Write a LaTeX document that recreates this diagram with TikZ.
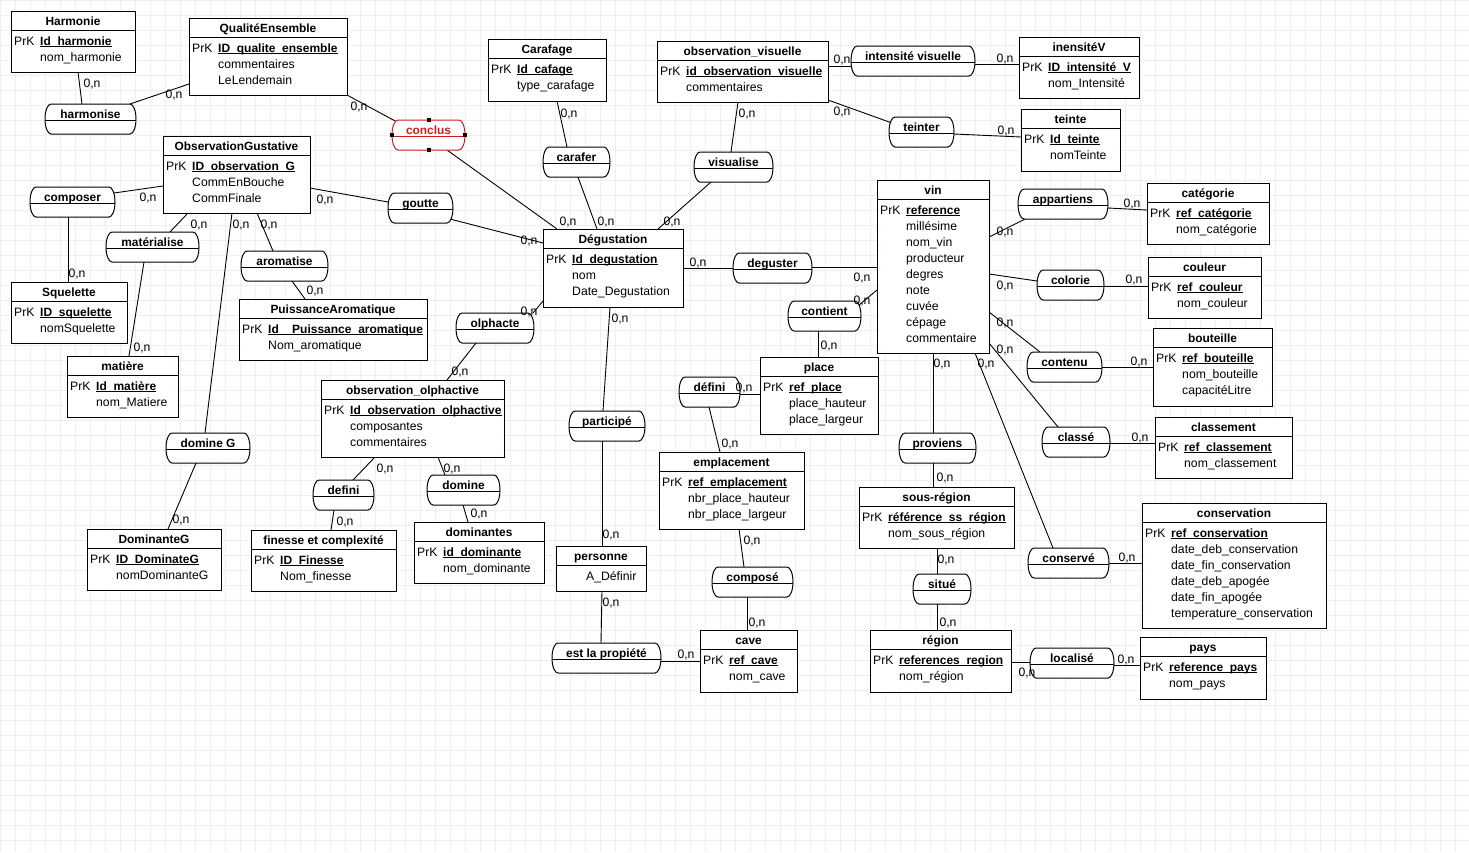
\documentclass[tikz,border=0pt]{standalone}
\usepackage{fontspec}
\setmainfont{Liberation Sans}
\usetikzlibrary{calc}

\definecolor{gridc}{RGB}{246,236,239}
\definecolor{relred}{RGB}{205,30,30}

\pgfdeclarelayer{bg}
\pgfsetlayers{bg,main}

\tikzset{
  entbox/.style={draw=black, fill=white, line width=1pt, inner sep=0pt, outer sep=0pt, rectangle},
  sepline/.style={line width=1pt},
  ttl/.style={font=\fontsize{11.9}{14}\selectfont\bfseries, inner sep=0pt, anchor=base},
  attr/.style={font=\fontsize{12.2}{14}\selectfont, inner sep=0pt, anchor=base west},
  card/.style={font=\fontsize{12.2}{14}\selectfont, inner sep=0pt, anchor=base},
  relbox/.style={draw=none, inner sep=0pt, outer sep=0pt, rectangle},
  relline/.style={line width=1pt},
  link/.style={line width=0.9pt, draw=black},
}

% bold key attribute, underlined at the height of the underscores
\newcommand{\keyu}[1]{\setbox0=\hbox{\fontsize{12}{14}\selectfont\bfseries #1}\rlap{\rule[-2.3pt]{\wd0}{0.9pt}}\box0}

% entity: name, x0, y0, x1, y1, title, key, other attributes
\newcommand{\entity}[8]{%
  \node[entbox, minimum width={(#4)-(#2)}, minimum height={(#5)-(#3)}, anchor=north west] (#1) at (#2,#3) {};
  \draw[sepline] ($(#1.north west)+(0,19)$) -- ($(#1.north east)+(0,19)$);
  \node[ttl] (#1-t) at ({((#2)+(#4))/2},{(#3)+14.5}) {#6};
  \node[attr] (#1-k) at ({(#2)+3},{(#3)+34}) {PrK};
  \node[attr] (#1-1) at ({(#2)+29},{(#3)+34}) {\keyu{#7}};
  \foreach \attrname [count=\i from 2] in {#8} {
    \node[attr] (#1-\i) at ({(#2)+29},{(#3)+34+16*(\i-1)}) {\attrname};
  }
}

% association: name, x0, y0, x1, y1, label, colour
\newcommand{\relation}[7]{%
  \node[relbox, minimum width={(#4)-(#2)}, minimum height={(#5)-(#3)}, anchor=north west] (#1) at (#2,#3) {};
  \draw[relline, draw=#7, fill=white] ($(#1.north west)+(6,0)$) -- ($(#1.north east)+(-6,0)$)
     arc[start angle=90, end angle=-90, x radius=6pt, y radius=15pt]
     -- ($(#1.south west)+(6,0)$)
     arc[start angle=270, end angle=90, x radius=6pt, y radius=15pt] -- cycle;
  \draw[relline, draw=#7] ($(#1.north west)+(0,16)$) -- ($(#1.north east)+(0,16)$);
  \node[ttl, text=#7] (#1-t) at ({((#2)+(#4))/2},{(#3)+14.5}) {#6};
}

% link between two nodes (offsets from their top-left corners) with its cardinality
\newcounter{cardn}
\newcommand{\link}[8]{%
  \stepcounter{cardn}%
  \begin{pgfonlayer}{bg}
  \draw[link] ($(#1.north west)+(#2,#3)$) -- ($(#4.north west)+(#5,#6)$);
  \end{pgfonlayer}
  \node[card] (card\thecardn) at ({#7},{(#8)+4.5}) {0,n};
}

\begin{document}
\begin{tikzpicture}[x=1pt,y=-1pt]
\useasboundingbox (0,0) rectangle (1469,852);
\begin{pgfonlayer}{bg}
  \fill[white] (0,0) rectangle (1469,852);
  \draw[gridc, line width=0.7pt, step=15pt] (0,0) grid (1469,852);
\end{pgfonlayer}

% entities
\entity{harmonie}{11}{11}{135}{72}{Harmonie}{Id\_harmonie}{nom\_harmonie}
\entity{qualite}{189}{18}{347}{95}{QualitéEnsemble}{ID\_qualite\_ensemble}{commentaires,LeLendemain}
\entity{obsg}{163}{136}{310}{213}{ObservationGustative}{ID\_observation\_G}{CommEnBouche,CommFinale}
\entity{carafage}{488}{39}{606}{101}{Carafage}{Id\_cafage}{type\_carafage}
\entity{obsvis}{657}{41}{828}{102}{observation\_visuelle}{id\_observation\_visuelle}{commentaires}
\entity{intensv}{1019}{37}{1139}{98}{inensitéV}{ID\_intensité\_V}{nom\_Intensité}
\entity{teinte}{1021}{109}{1120}{171}{teinte}{Id\_teinte}{nomTeinte}
\entity{vin}{877}{180}{989}{353}{vin}{reference}{millésime,nom\_vin,producteur,degres,note,cuvée,cépage,commentaire}
\entity{categorie}{1147}{183}{1269}{244}{catégorie}{ref\_catégorie}{nom\_catégorie}
\entity{couleur}{1148}{257}{1261}{318}{couleur}{ref\_couleur}{nom\_couleur}
\entity{bouteille}{1153}{328}{1272}{406}{bouteille}{ref\_bouteille}{nom\_bouteille,capacitéLitre}
\entity{classement}{1155}{417}{1292}{478}{classement}{ref\_classement}{nom\_classement}
\entity{conservation}{1142}{503}{1326}{628}{conservation}{ref\_conservation}{date\_deb\_conservation,date\_fin\_conservation,date\_deb\_apogée,date\_fin\_apogée,temperature\_conservation}
\entity{pays}{1140}{637}{1266}{699}{pays}{reference\_pays}{nom\_pays}
\entity{degustation}{543}{229}{683}{307}{Dégustation}{Id\_degustation}{nom,Date\_Degustation}
\entity{squelette}{11}{282}{127}{343}{Squelette}{ID\_squelette}{nomSquelette}
\entity{matiere}{67}{356}{178}{417}{matière}{Id\_matière}{nom\_Matiere}
\entity{puissance}{239}{299}{427}{360}{PuissanceAromatique}{Id\_\_Puissance\_aromatique}{Nom\_aromatique}
\entity{obsolf}{321}{380}{504}{457}{observation\_olphactive}{Id\_observation\_olphactive}{composantes,commentaires}
\entity{dominanteg}{87}{529}{221}{590}{DominanteG}{ID\_DominateG}{nomDominanteG}
\entity{finesse}{251}{530}{396}{591}{finesse et complexité}{ID\_Finesse}{Nom\_finesse}
\entity{dominantes}{414}{522}{544}{583}{dominantes}{id\_dominante}{nom\_dominante}
\entity{place}{760}{357}{878}{434}{place}{ref\_place}{place\_hauteur,place\_largeur}
\entity{emplacement}{659}{452}{804}{529}{emplacement}{ref\_emplacement}{nbr\_place\_hauteur,nbr\_place\_largeur}
\entity{sousregion}{859}{487}{1014}{548}{sous-région}{référence\_ss\_région}{nom\_sous\_région}
\entity{cave}{700}{630}{797}{692}{cave}{ref\_cave}{nom\_cave}
\entity{region}{870}{630}{1011}{692}{région}{references\_region}{nom\_région}

% personne has no identifier row
\node[entbox, minimum width=90, minimum height=45, anchor=north west] (personne) at (556,546) {};
\draw[sepline] ($(personne.north west)+(0,19)$) -- ($(personne.north east)+(0,19)$);
\node[ttl] (personne-t) at (601,560.5) {personne};
\node[attr] (personne-1) at (586,580) {A\_Définir};

% associations
\relation{harmonise}{45}{104}{136}{134}{harmonise}{black}
\relation{conclus}{392}{120}{465}{150}{conclus}{relred}
\relation{composer}{30}{187}{115}{217}{composer}{black}
\relation{goutte}{388}{193}{453}{223}{goutte}{black}
\relation{carafer}{543}{147}{610}{177}{carafer}{black}
\relation{visualise}{694}{152}{773}{182}{visualise}{black}
\relation{intvis}{851}{46}{975}{76}{intensité visuelle}{black}
\relation{teinter}{889}{117}{954}{147}{teinter}{black}
\relation{deguster}{733}{253}{812}{283}{deguster}{black}
\relation{contient}{788}{301}{861}{331}{contient}{black}
\relation{appartiens}{1018}{189}{1108}{219}{appartiens}{black}
\relation{colorie}{1037}{270}{1104}{300}{colorie}{black}
\relation{contenu}{1027}{352}{1102}{382}{contenu}{black}
\relation{classe}{1042}{427}{1110}{457}{classé}{black}
\relation{conserve}{1028}{548}{1109}{578}{conservé}{black}
\relation{localise}{1030}{648}{1114}{678}{localisé}{black}
\relation{materialise}{106}{232}{199}{262}{matérialise}{black}
\relation{aromatise}{241}{251}{328}{281}{aromatise}{black}
\relation{olphacte}{456}{313}{534}{343}{olphacte}{black}
\relation{domineg}{166}{433}{250}{463}{domine G}{black}
\relation{defini}{313}{480}{374}{510}{defini}{black}
\relation{domine}{427}{475}{500}{505}{domine}{black}
\relation{participe}{569}{411}{645}{441}{participé}{black}
\relation{definir}{679}{377}{740}{407}{défini}{black}
\relation{proviens}{899}{433}{976}{463}{proviens}{black}
\relation{compose}{712}{567}{793}{597}{composé}{black}
\relation{situe}{913}{574}{971}{604}{situé}{black}
\relation{propriete}{552}{643}{661}{673}{est la propiété}{black}

% selection handles of the active association
\foreach \h in {north,south,east,west}
  \fill[black] ($(conclus.\h)+(-2,-2)$) rectangle +(4,4);

% links
\link{harmonie}{67}{61}{harmonise}{37}{0}{92}{83}
\link{harmonise}{85}{0}{qualite}{0}{66}{174}{94}
\link{qualite}{158}{77}{conclus}{5}{2}{359}{106}
\link{conclus}{55}{30}{degustation}{14}{0}{568}{221}
\link{obsg}{0}{50}{composer}{84}{6}{148}{197}
\link{obsg}{147}{52}{goutte}{0}{9}{325}{199}
\link{goutte}{62}{26}{degustation}{0}{14}{529}{240}
\link{carafage}{69}{62}{carafer}{24}{0}{569}{113}
\link{carafer}{35}{30}{degustation}{54}{0}{606}{221}
\link{obsvis}{81}{61}{visualise}{37}{0}{747}{113}
\link{visualise}{17}{30}{degustation}{115}{0}{672}{221}
\link{obsvis}{171}{25}{intvis}{0}{20}{842}{59}
\link{intvis}{124}{18}{intensv}{0}{27}{1005}{58}
\link{obsvis}{171}{59}{teinter}{3}{6}{842}{111}
\link{teinter}{65}{17}{teinte}{0}{28}{1006}{130}
\link{degustation}{140}{39}{deguster}{0}{15}{698}{262}
\link{deguster}{79}{14}{vin}{0}{87}{862}{277}
\link{contient}{71}{4}{vin}{0}{110}{862}{300}
\link{contient}{30}{30}{place}{58}{0}{829}{345}
\link{vin}{112}{57}{appartiens}{9}{29}{1005}{231}
\link{appartiens}{90}{19}{categorie}{0}{27}{1132}{203}
\link{vin}{112}{94}{colorie}{0}{11}{1005}{285}
\link{colorie}{67}{16}{couleur}{0}{29}{1134}{279}
\link{vin}{112}{132}{contenu}{13}{0}{1005}{322}
\link{vin}{112}{163}{classe}{16}{0}{1005}{349}
\link{contenu}{75}{15}{bouteille}{0}{39}{1139}{361}
\link{classe}{68}{16}{classement}{0}{26}{1140}{437}
\link{vin}{98}{173}{conserve}{25}{0}{986}{363}
\link{conserve}{81}{15}{conservation}{0}{60}{1127}{557}
\link{vin}{56}{173}{proviens}{34}{0}{942}{363}
\link{proviens}{34}{30}{sousregion}{74}{0}{945}{477}
\link{sousregion}{78}{61}{situe}{24}{0}{946}{559}
\link{situe}{24}{30}{region}{67}{0}{948}{622}
\link{region}{141}{32}{localise}{0}{14}{1027}{672}
\link{localise}{84}{17}{pays}{0}{28}{1126}{659}
\link{degustation}{67}{78}{participe}{34}{0}{620}{318}
\link{participe}{33}{30}{personne}{46}{0}{611}{534}
\link{personne}{46}{45}{propriete}{49}{0}{611}{602}
\link{propriete}{109}{18}{cave}{0}{31}{686}{654}
\link{compose}{35}{30}{cave}{47}{0}{757}{622}
\link{emplacement}{80}{77}{compose}{32}{0}{752}{540}
\link{definir}{30}{30}{emplacement}{61}{0}{730}{443}
\link{definir}{61}{17}{place}{0}{37}{744}{387}
\link{degustation}{0}{72}{olphacte}{77}{0}{529}{311}
\link{olphacte}{20}{30}{obsolf}{126}{0}{460}{371}
\link{obsolf}{54}{77}{defini}{40}{0}{385}{468}
\link{defini}{21}{30}{finesse}{80}{0}{345}{521}
\link{obsolf}{117}{77}{domine}{18}{0}{452}{468}
\link{domine}{36}{30}{dominantes}{54}{0}{479}{513}
\link{obsg}{25}{77}{materialise}{64}{0}{199}{224}
\link{materialise}{38}{30}{matiere}{62}{0}{142}{347}
\link{composer}{38}{30}{squelette}{57}{0}{77}{273}
\link{obsg}{69}{77}{domineg}{39}{0}{241}{224}
\link{domineg}{30}{30}{dominanteg}{81}{0}{181}{519}
\link{obsg}{94}{77}{aromatise}{32}{0}{269}{224}
\link{aromatise}{51}{30}{puissance}{66}{0}{315}{290}
\end{tikzpicture}
\end{document}
